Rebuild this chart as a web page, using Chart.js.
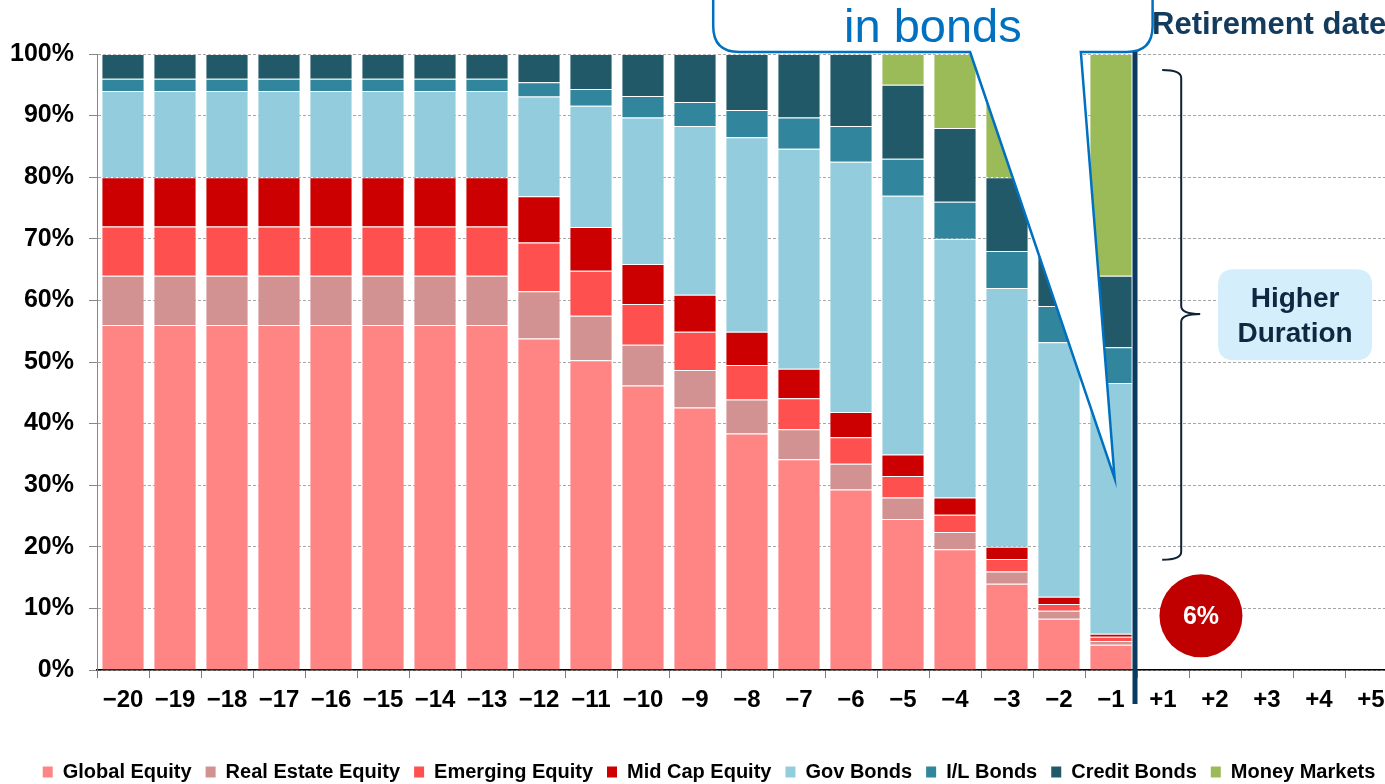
<!DOCTYPE html>
<html>
<head>
<meta charset="utf-8">
<script src="https://cdn.jsdelivr.net/npm/chart.js@4/dist/chart.umd.min.js"></script>
<style>
  html, body { margin: 0; padding: 0; background: #ffffff; overflow: hidden; }
  #wrap { position: absolute; left: 0; top: 0; width: 1418px; height: 792px; }
</style>
</head>
<body>
<div id="wrap"><canvas id="c" width="1418" height="792"></canvas></div>
<script>
// Years before / after retirement
const years = ['−20','−19','−18','−17','−16','−15','−14','−13','−12','−11','−10','−9','−8','−7','−6','−5','−4','−3','−2','−1','+1','+2','+3','+4','+5'];

// Allocation (% of portfolio) per asset class
const globalEquity     = [56, 56, 56, 56, 56, 56, 56, 56, 53.8, 50.3, 46.2, 42.6, 38.4, 34.2, 29.3, 24.5, 19.6, 14, 8.3, 4.1, null, null, null, null, null];
const realEstateEquity = [8, 8, 8, 8, 8, 8, 8, 8, 7.7, 7.2, 6.6, 6.1, 5.5, 4.9, 4.2, 3.5, 2.8, 2, 1.3, 0.6, null, null, null, null, null];
const emergingEquity   = [8, 8, 8, 8, 8, 8, 8, 8, 7.9, 7.3, 6.6, 6.2, 5.6, 5.0, 4.3, 3.5, 2.8, 2, 1.1, 0.7, null, null, null, null, null];
const midCapEquity     = [8, 8, 8, 8, 8, 8, 8, 8, 7.5, 7.1, 6.5, 6.0, 5.4, 4.8, 4.1, 3.5, 2.8, 2, 1.2, 0.5, null, null, null, null, null];
const govBonds         = [14, 14, 14, 14, 14, 14, 14, 14, 16.2, 19.7, 23.8, 27.4, 31.6, 35.7, 40.6, 42, 42, 42, 41.3, 40.7, null, null, null, null, null];
const ilBonds          = [2, 2, 2, 2, 2, 2, 2, 2, 2.3, 2.7, 3.5, 3.9, 4.4, 5.1, 5.8, 6, 6, 6, 5.9, 5.8, null, null, null, null, null];
const creditBonds      = [4, 4, 4, 4, 4, 4, 4, 4, 4.6, 5.7, 6.8, 7.8, 9.1, 10.3, 11.7, 12, 12, 12, 11.9, 11.6, null, null, null, null, null];
const moneyMarkets     = [0, 0, 0, 0, 0, 0, 0, 0, 0, 0, 0, 0, 0, 0, 0, 5, 12, 20, 29, 36, null, null, null, null, null];

const seriesNames  = ['Global Equity', 'Real Estate Equity', 'Emerging Equity', 'Mid Cap Equity', 'Gov Bonds', 'I/L Bonds', 'Credit Bonds', 'Money Markets'];
const seriesData   = [globalEquity, realEstateEquity, emergingEquity, midCapEquity, govBonds, ilBonds, creditBonds, moneyMarkets];
const seriesColors = ['#FF8585', '#D29292', '#FF5050', '#CC0000', '#93CDDD', '#31859C', '#215968', '#9BBB59'];

// Annotation texts
const calloutText = 'in bonds';
const retirementLabel = 'Retirement date';
const durationLines = ['Higher', 'Duration'];
const equityAtRetirement = '6%';

const FONT = "'Liberation Sans', Arial, Helvetica, sans-serif";
Chart.defaults.font.family = FONT;

function roundRectPath(ctx, x, y, w, h, r) {
  ctx.beginPath();
  ctx.moveTo(x + r, y);
  ctx.lineTo(x + w - r, y);
  ctx.quadraticCurveTo(x + w, y, x + w, y + r);
  ctx.lineTo(x + w, y + h - r);
  ctx.quadraticCurveTo(x + w, y + h, x + w - r, y + h);
  ctx.lineTo(x + r, y + h);
  ctx.quadraticCurveTo(x, y + h, x, y + h - r);
  ctx.lineTo(x, y + r);
  ctx.quadraticCurveTo(x, y, x + r, y);
  ctx.closePath();
}

const overlay = {
  id: 'overlay',
  afterDatasetsDraw(chart) {
    const { ctx, chartArea, scales: { x, y } } = chart;
    const catW = x.getPixelForValue(1) - x.getPixelForValue(0);
    const top = y.getPixelForValue(100);
    ctx.save();

    // Speech-bubble callout with its pointer down to the last pre-retirement bar
    const bL = x.getPixelForValue(11) + catW * 0.35;
    const bR = x.getPixelForValue(20) - catW * 0.2;
    const bB = top - 2;
    const bT = -90;
    const rad = 26;
    const tailA = x.getPixelForValue(16) + catW * 0.29;
    const tailB = x.getPixelForValue(19) - catW * 0.58;
    const tipX = x.getPixelForValue(19) + catW * 0.07;
    const tipY = y.getPixelForValue(31.1);
    ctx.beginPath();
    ctx.moveTo(tailA, bB);
    ctx.lineTo(tipX, tipY);
    ctx.lineTo(tailB, bB);
    ctx.lineTo(bR - rad, bB);
    ctx.quadraticCurveTo(bR, bB, bR, bB - rad);
    ctx.lineTo(bR, bT);
    ctx.lineTo(bL, bT);
    ctx.lineTo(bL, bB - rad);
    ctx.quadraticCurveTo(bL, bB, bL + rad, bB);
    ctx.closePath();
    ctx.fillStyle = '#ffffff';
    ctx.fill();
    ctx.lineWidth = 2.5;
    ctx.lineJoin = 'miter';
    ctx.strokeStyle = '#0070C0';
    ctx.stroke();

    ctx.fillStyle = '#0070C0';
    ctx.font = '47px ' + FONT;
    ctx.textAlign = 'center';
    ctx.textBaseline = 'alphabetic';
    ctx.fillText(calloutText, (bL + bR) / 2, 42);

    // Retirement date marker line
    const rx = (x.getPixelForValue(19) + x.getPixelForValue(20)) / 2 - 2;
    ctx.beginPath();
    ctx.moveTo(rx, top - 2);
    ctx.lineTo(rx, chartArea.bottom + 34);
    ctx.lineWidth = 5;
    ctx.strokeStyle = '#0B3A60';
    ctx.stroke();

    ctx.fillStyle = '#123B5E';
    ctx.font = 'bold 31px ' + FONT;
    ctx.textAlign = 'left';
    ctx.fillText(retirementLabel, rx + 17, 34);

    // Curly brace spanning the bond-heavy section
    const brX = x.getPixelForValue(20) + catW * 0.35;
    const brL = brX - 19;
    const brTip = brX + 19;
    const yT = y.getPixelForValue(97.4);
    const yB = y.getPixelForValue(17.9);
    const yM = y.getPixelForValue(57.8);
    ctx.beginPath();
    ctx.moveTo(brL, yT);
    ctx.quadraticCurveTo(brX, yT, brX, yT + 8);
    ctx.lineTo(brX, yM - 8);
    ctx.quadraticCurveTo(brX, yM, brTip, yM);
    ctx.quadraticCurveTo(brX, yM, brX, yM + 8);
    ctx.lineTo(brX, yB - 8);
    ctx.quadraticCurveTo(brX, yB, brL, yB);
    ctx.lineWidth = 2;
    ctx.strokeStyle = '#0F2236';
    ctx.stroke();

    // "Higher Duration" label box
    const hx = x.getPixelForValue(22) + catW * 0.54;
    const hy = y.getPixelForValue(57.6);
    roundRectPath(ctx, hx - 77, hy - 46, 154, 91, 16);
    ctx.fillStyle = '#D5EEFB';
    ctx.fill();
    ctx.fillStyle = '#0F2740';
    ctx.font = 'bold 28px ' + FONT;
    ctx.textAlign = 'center';
    ctx.textBaseline = 'middle';
    ctx.fillText(durationLines[0], hx, hy - 16);
    ctx.fillText(durationLines[1], hx, hy + 19);

    // Equity share at retirement badge
    const cx = x.getPixelForValue(21) - catW * 0.27;
    const cy = y.getPixelForValue(8.8);
    ctx.beginPath();
    ctx.arc(cx, cy, 41.5, 0, Math.PI * 2);
    ctx.fillStyle = '#C00000';
    ctx.fill();
    ctx.fillStyle = '#ffffff';
    ctx.font = 'bold 25px ' + FONT;
    ctx.fillText(equityAtRetirement, cx, cy + 1);

    ctx.restore();
  }
};

const datasets = seriesNames.map((name, i) => ({
  label: name,
  data: seriesData[i],
  backgroundColor: seriesColors[i],
  borderColor: 'rgba(255,255,255,0.25)',
  borderWidth: 1,
  barPercentage: 0.83,
  categoryPercentage: 1.0
}));

new Chart(document.getElementById('c'), {
  type: 'bar',
  data: { labels: years, datasets },
  options: {
    responsive: false,
    animation: false,
    layout: { padding: { left: 0, right: 0, top: 54, bottom: 0 } },
    plugins: {
      tooltip: { enabled: false },
      legend: {
        position: 'bottom',
        labels: {
          boxWidth: 10,
          boxHeight: 11,
          padding: 14,
          color: '#000000',
          font: { size: 20, weight: 'bold' },
          generateLabels(chart) {
            const items = Chart.defaults.plugins.legend.labels.generateLabels(chart);
            items.forEach(it => { it.lineWidth = 0; });
            return items;
          }
        }
      }
    },
    scales: {
      x: {
        stacked: true,
        afterFit(scale) { scale.height = 78; },
        grid: { drawOnChartArea: false, drawTicks: true, tickLength: 8, tickColor: '#7F7F7F', offset: true },
        border: { display: true, color: '#000000', width: 1.5 },
        ticks: { color: '#000000', font: { size: 24, weight: 'bold' }, padding: 8, maxRotation: 0, autoSkip: false }
      },
      y: {
        stacked: true,
        min: 0,
        max: 100,
        afterFit(scale) { scale.width = 97; },
        grid: { color: '#A6A6A6', lineWidth: 1, tickLength: 8, tickColor: '#868686', tickBorderDash: [] },
        border: { display: true, color: '#868686', width: 1, dash: [3, 2] },
        ticks: {
          stepSize: 10,
          color: '#000000',
          padding: 15,
          font: { size: 25, weight: 'bold' },
          callback: v => v + '%'
        }
      },
      // spacer on the right so the plot area runs just past the window edge
      yRight: {
        position: 'right',
        display: true,
        afterFit(scale) { scale.width = 21; },
        grid: { display: false, drawTicks: false },
        border: { display: false },
        ticks: { display: false }
      }
    }
  },
  plugins: [overlay]
});
</script>
</body>
</html>
